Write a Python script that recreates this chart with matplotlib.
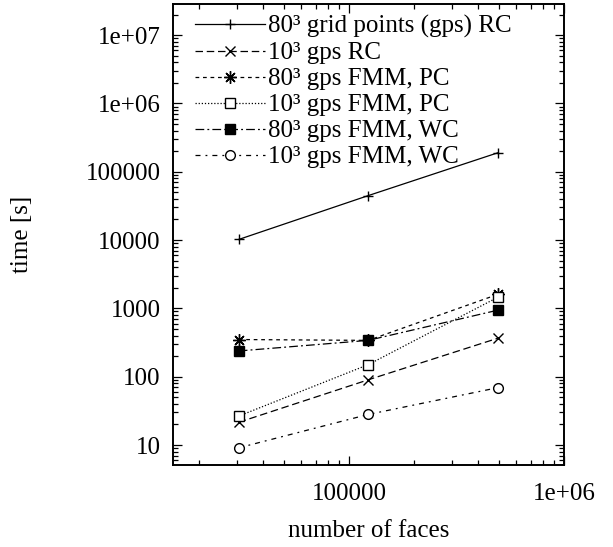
import matplotlib
matplotlib.use('Agg')
import matplotlib.pyplot as plt

plt.rcParams['font.family'] = ['Liberation Serif', 'DejaVu Serif']

# number of faces
faces = [30720, 122880, 491520]

# timings [s]
rc_80 = [10200, 44700, 189000]
rc_10 = [21.5, 90, 365]
fmm_pc_80 = [350, 340, 1600]
fmm_pc_10 = [26.5, 150, 1450]
fmm_wc_80 = [238, 340, 940]
fmm_wc_10 = [9.1, 28, 69]

labels = [
    '80\u00b3 grid points (gps) RC',
    '10\u00b3 gps RC',
    '80\u00b3 gps FMM, PC',
    '10\u00b3 gps FMM, PC',
    '80\u00b3 gps FMM, WC',
    '10\u00b3 gps FMM, WC',
]

fs = 18

fig = plt.figure(figsize=(6.13, 5.47), dpi=100)
ax = fig.add_axes([173 / 613, 1 - 465 / 547, (564 - 173) / 613, (465 - 4) / 547])

lw = 0.9
ax.plot(faces, rc_80, color='black', lw=lw, ls='-', marker='+', ms=7,
        mew=1.0, label=labels[0])
ax.plot(faces, rc_10, color='black', lw=lw, ls=(0, (6, 3)), marker='x', ms=7,
        mew=1.0, label=labels[1])
ax.plot(faces, fmm_pc_80, color='black', lw=lw, ls=(0, (3, 3)),
        marker=(8, 2, 0), ms=9, mew=1.0, label=labels[2])
ax.plot(faces, fmm_pc_10, color='black', lw=lw, ls=(0, (1, 1.5)), marker='s',
        ms=7, mfc='white', mew=1.0, label=labels[3])
ax.plot(faces, fmm_wc_80, color='black', lw=lw, ls=(0, (7, 2.5, 1.5, 2.5)),
        marker='s', ms=7, mfc='black', mew=1.0, label=labels[4])
ax.plot(faces, fmm_wc_10, color='black', lw=lw, ls=(0, (4, 4, 1.5, 4)),
        marker='o', ms=7, mfc='white', mew=1.0, label=labels[5])

ax.set_xscale('log')
ax.set_yscale('log')
ax.set_xlim(15200, 1e6)
ax.set_ylim(5.1, 2.85e7)

ax.set_xticks([1e5, 1e6])
ax.set_xticklabels(['100000', '1e+06'])
ax.set_yticks([10, 100, 1000, 1e4, 1e5, 1e6, 1e7])
ax.set_yticklabels(['10', '100', '1000', '10000', '100000', '1e+06', '1e+07'])

ax.tick_params(which='both', direction='in', top=True, right=True,
               labelsize=fs, width=0.9)
ax.tick_params(which='major', length=6.5)
ax.tick_params(axis='y', which='major', pad=9)
ax.tick_params(axis='x', which='major', pad=13)
ax.tick_params(which='minor', length=3.5)
for sp in ax.spines.values():
    sp.set_linewidth(1.4)

ax.set_xlabel('number of faces', fontsize=fs, labelpad=11)
ax.set_ylabel('time [s]', fontsize=fs, labelpad=38)

leg = ax.legend(loc='upper left', bbox_to_anchor=(0.018, 1.008), frameon=False,
                fontsize=fs, handlelength=2.8, handletextpad=0.1,
                labelspacing=0.14, borderaxespad=0.2)

fig.savefig('out.png', dpi=100)
